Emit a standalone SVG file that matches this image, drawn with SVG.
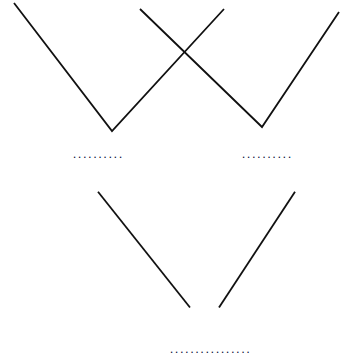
<svg xmlns="http://www.w3.org/2000/svg" width="350" height="358" viewBox="0 0 350 358">
<style>
.ln{stroke:#111;stroke-width:1.8;fill:none;stroke-linecap:butt}
.dt{font-family:"Liberation Mono",monospace;font-size:8.5px;font-weight:bold;fill:#10103a}
</style>
<rect width="350" height="358" fill="#fff"/>
<g id="connectors">
<polyline class="ln" points="14,3 112,131 224,9"/>
<polyline class="ln" points="140,9 262,127 339,12"/>
<line class="ln" x1="98" y1="191.7" x2="190" y2="307.5"/>
<line class="ln" x1="219" y1="307.5" x2="295" y2="191.7"/>
</g>
<g id="blank-left"><text class="dt" x="72" y="158">..........</text></g>
<g id="blank-right"><text class="dt" x="241" y="158">..........</text></g>
<g id="blank-bottom"><text class="dt" x="169" y="353">................</text></g>
</svg>
